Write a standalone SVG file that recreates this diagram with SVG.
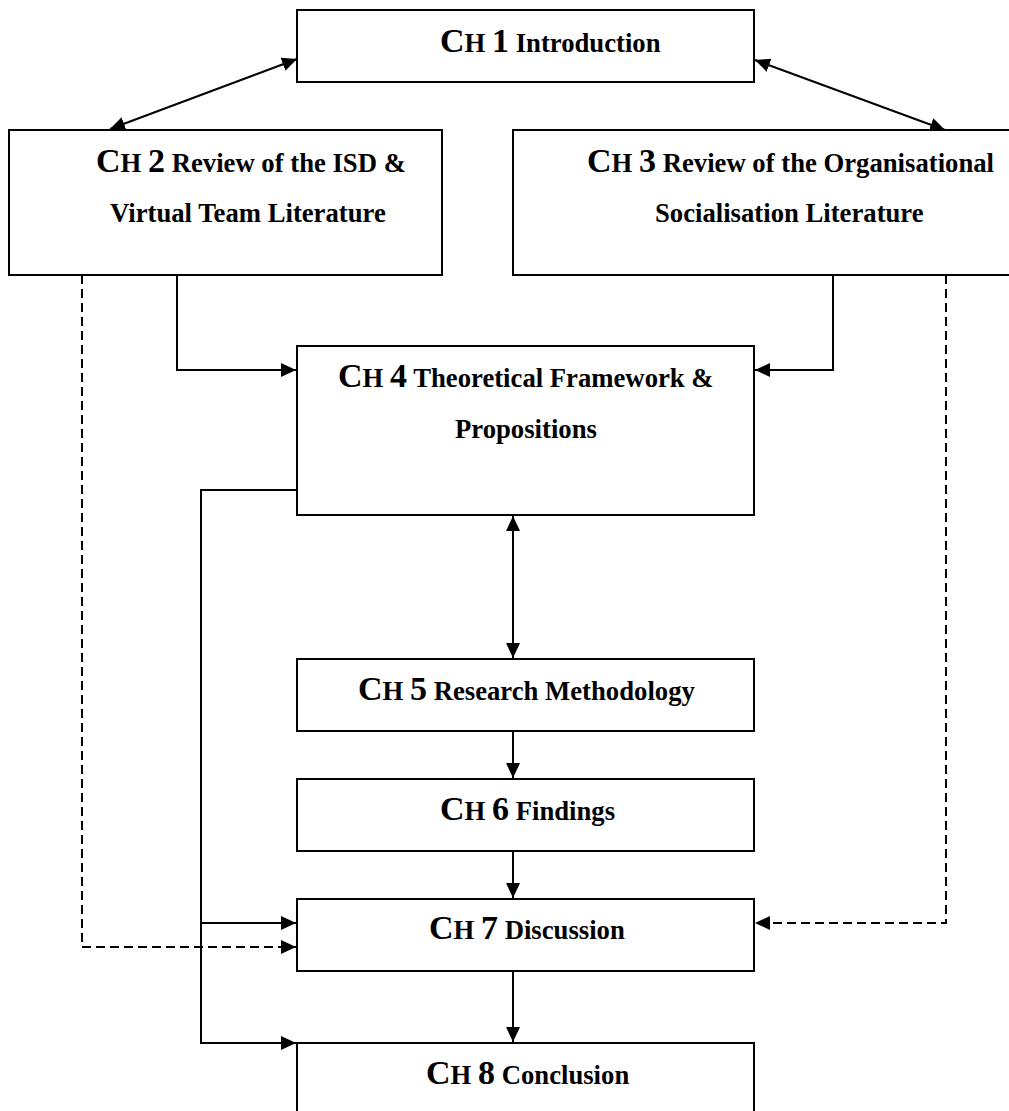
<svg xmlns="http://www.w3.org/2000/svg" width="1009" height="1111" viewBox="0 0 1009 1111">
<style>
.box{fill:#fff;stroke:#000;stroke-width:2}
.lbl{font-family:"Liberation Serif","Times New Roman",serif;font-weight:bold;font-size:26.7px;fill:#000}
.big{font-size:34px}
.con{fill:none;stroke:#000;stroke-width:2}
.dash{stroke-dasharray:9 5}
</style>
<defs>
<marker id="ah" markerUnits="userSpaceOnUse" markerWidth="16" markerHeight="14" refX="15" refY="7" orient="auto-start-reverse">
<path d="M0,0 L15,7 L0,14 z" fill="#000"/>
</marker>
</defs>
<g id="connectors">
<line class="con" x1="297" y1="59" x2="110" y2="129" marker-start="url(#ah)" marker-end="url(#ah)"/>
<line class="con" x1="755" y1="60" x2="945" y2="130" marker-start="url(#ah)" marker-end="url(#ah)"/>
<path class="con" d="M177,275 V370 H296" marker-end="url(#ah)"/>
<path class="con" d="M833,275 V370 H755" marker-end="url(#ah)"/>
<path class="con" d="M513,516 V658" marker-start="url(#ah)" marker-end="url(#ah)"/>
<path class="con" d="M513,731 V778" marker-end="url(#ah)"/>
<path class="con" d="M513,851 V898" marker-end="url(#ah)"/>
<path class="con" d="M513,971 V1042" marker-end="url(#ah)"/>
<path class="con" d="M297,490 H201 V1043 H296" marker-end="url(#ah)"/>
<path class="con" d="M201,923 H296" marker-end="url(#ah)"/>
<path class="con dash" d="M82,275 V947 H296" marker-end="url(#ah)"/>
<path class="con dash" d="M946,275 V923 H755" marker-end="url(#ah)"/>
</g>
<g id="ch1">
<rect class="box" x="297" y="10" width="457" height="72"/>
<text class="lbl" x="440" y="52"><tspan class="big">C</tspan>H <tspan class="big">1</tspan> Introduction</text>
</g>
<g id="ch2">
<rect class="box" x="9" y="130" width="433" height="145"/>
<text class="lbl" x="96" y="172"><tspan class="big">C</tspan>H <tspan class="big">2</tspan> Review of the ISD &amp;</text>
<text class="lbl" x="110" y="222">Virtual Team Literature</text>
</g>
<g id="ch3">
<rect class="box" x="513" y="130" width="500" height="145"/>
<text class="lbl" x="587" y="172"><tspan class="big">C</tspan>H <tspan class="big">3</tspan> Review of the Organisational</text>
<text class="lbl" x="655" y="222">Socialisation Literature</text>
</g>
<g id="ch4">
<rect class="box" x="297" y="346" width="457" height="169"/>
<text class="lbl" x="338" y="387"><tspan class="big">C</tspan>H <tspan class="big">4</tspan> Theoretical Framework &amp;</text>
<text class="lbl" x="455" y="438">Propositions</text>
</g>
<g id="ch5">
<rect class="box" x="297" y="659" width="457" height="72"/>
<text class="lbl" x="358" y="700"><tspan class="big">C</tspan>H <tspan class="big">5</tspan> Research Methodology</text>
</g>
<g id="ch6">
<rect class="box" x="297" y="779" width="457" height="72"/>
<text class="lbl" x="440" y="820"><tspan class="big">C</tspan>H <tspan class="big">6</tspan> Findings</text>
</g>
<g id="ch7">
<rect class="box" x="297" y="899" width="457" height="72"/>
<text class="lbl" x="429" y="939"><tspan class="big">C</tspan>H <tspan class="big">7</tspan> Discussion</text>
</g>
<g id="ch8">
<rect class="box" x="297" y="1043" width="457" height="90"/>
<text class="lbl" x="426" y="1084"><tspan class="big">C</tspan>H <tspan class="big">8</tspan> Conclusion</text>
</g>
</svg>
